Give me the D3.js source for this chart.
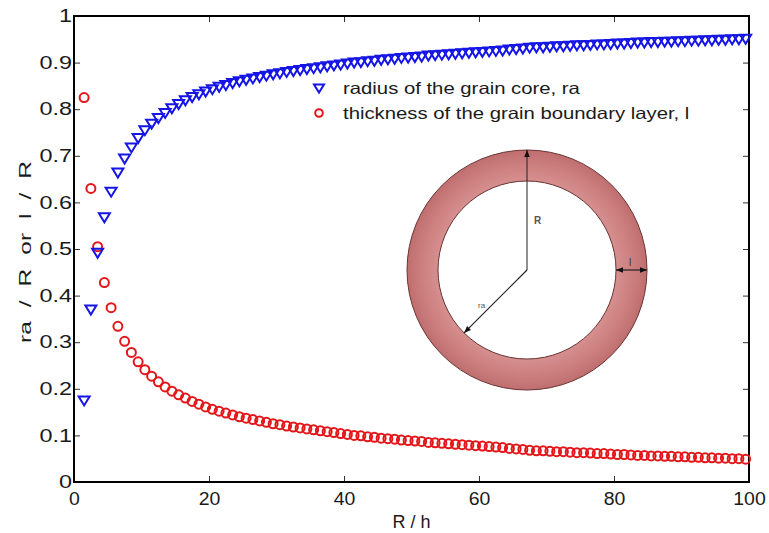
<!DOCTYPE html>
<html>
<head>
<meta charset="utf-8">
<script src="https://cdn.jsdelivr.net/npm/d3@7"></script>
<style>
  html, body { margin: 0; padding: 0; background: #fff; }
  svg { display: block; font-family: "Liberation Sans", Arial, Helvetica, sans-serif; }
</style>
</head>
<body>
<svg id="chart" width="769" height="533"></svg>
<script>
// ---- data ----
const xStart = 1.5;            // first R/h sample
const xStep = 1;               // sample spacing in R/h
const coreRatio = [ // ra / R  (blue triangles)
  0.175, 0.370, 0.492, 0.568, 0.623, 0.664, 0.694, 0.718, 0.738, 0.755,
  0.769, 0.781, 0.792, 0.802, 0.811, 0.819, 0.826, 0.832, 0.838, 0.843,
  0.848, 0.852, 0.856, 0.860, 0.863, 0.866, 0.869, 0.872, 0.875, 0.877,
  0.880, 0.882, 0.884, 0.886, 0.888, 0.890, 0.892, 0.894, 0.896, 0.898,
  0.900, 0.901, 0.903, 0.904, 0.906, 0.907, 0.908, 0.910, 0.911, 0.912,
  0.913, 0.915, 0.916, 0.917, 0.918, 0.919, 0.920, 0.921, 0.922, 0.923,
  0.924, 0.925, 0.926, 0.928, 0.929, 0.930, 0.932, 0.933, 0.933, 0.934,
  0.935, 0.935, 0.936, 0.937, 0.937, 0.938, 0.939, 0.939, 0.940, 0.941,
  0.941, 0.942, 0.943, 0.943, 0.944, 0.944, 0.945, 0.945, 0.946, 0.946,
  0.947, 0.947, 0.948, 0.948, 0.949, 0.949, 0.950, 0.950, 0.951
];
const layerRatio = [ // l / R  (red circles)
  0.825, 0.630, 0.505, 0.428, 0.374, 0.334, 0.302, 0.278, 0.258, 0.241,
  0.227, 0.215, 0.204, 0.195, 0.187, 0.180, 0.173, 0.167, 0.161, 0.156,
  0.152, 0.148, 0.144, 0.140, 0.137, 0.134, 0.131, 0.128, 0.125, 0.123,
  0.120, 0.118, 0.116, 0.114, 0.112, 0.110, 0.108, 0.106, 0.104, 0.102,
  0.100, 0.099, 0.097, 0.096, 0.094, 0.093, 0.092, 0.090, 0.089, 0.088,
  0.087, 0.085, 0.084, 0.083, 0.082, 0.081, 0.080, 0.079, 0.078, 0.077,
  0.076, 0.075, 0.074, 0.072, 0.071, 0.070, 0.068, 0.067, 0.067, 0.066,
  0.065, 0.065, 0.064, 0.063, 0.063, 0.062, 0.061, 0.061, 0.060, 0.059,
  0.059, 0.058, 0.057, 0.057, 0.056, 0.056, 0.055, 0.055, 0.054, 0.054,
  0.053, 0.053, 0.052, 0.052, 0.051, 0.051, 0.050, 0.050, 0.049
];
const xTicks = [0, 20, 40, 60, 80, 100];
const yTicks = [0, 0.1, 0.2, 0.3, 0.4, 0.5, 0.6, 0.7, 0.8, 0.9, 1];
const seriesNames = ["radius of the grain core, ra", "thickness of the grain boundary layer, l"];
const xLabel = "R / h";
const yLabel = "ra / R or l / R";
const insetLabels = { R: "R", ra: "ra", l: "l" };

// ---- layout ----
const svg = d3.select("#chart");
const margin = { left: 74, right: 20, top: 16, bottom: 51 };
const W = 769, H = 533;
const x = d3.scaleLinear().domain([0, 100]).range([margin.left, W - margin.right]);
const y = d3.scaleLinear().domain([0, 1]).range([H - margin.bottom, margin.top]);

const blue = "#1515e6", red = "#e3161a";
const xs = coreRatio.map((_, i) => xStart + i * xStep);

// horizontally stretch text (the reference glyphs are wide)
function stretch(sel, f) {
  sel.each(function () {
    const len = this.getComputedTextLength();
    d3.select(this).attr("textLength", len * f).attr("lengthAdjust", "spacingAndGlyphs");
  });
}

// frame + axes
const fmtY = d => (d === 0 || d === 1) ? String(d) : d.toFixed(1);
const tickLen = 6;
const axB = svg.append("g").attr("transform", `translate(0,${y(0)})`)
  .call(d3.axisBottom(x).tickValues(xTicks).tickSizeInner(-tickLen).tickSizeOuter(0).tickPadding(10));
const axT = svg.append("g").attr("transform", `translate(0,${y(1)})`)
  .call(d3.axisTop(x).tickValues(xTicks).tickSizeInner(-tickLen).tickSizeOuter(0).tickFormat(""));
const axL = svg.append("g").attr("transform", `translate(${x(0)},0)`)
  .call(d3.axisLeft(y).tickValues(yTicks).tickSizeInner(-tickLen).tickSizeOuter(0).tickPadding(2).tickFormat(fmtY));
const axR = svg.append("g").attr("transform", `translate(${x(100)},0)`)
  .call(d3.axisRight(y).tickValues(yTicks).tickSizeInner(-tickLen).tickSizeOuter(0).tickFormat(""));
[axB, axT, axL, axR].forEach(g => {
  g.select(".domain").remove();
  g.selectAll(".tick line").attr("stroke", "#333").attr("stroke-width", 1);
  g.selectAll(".tick text").attr("fill", "#1a1a1a").style("font-size", "18px")
    .style("font-family", "'Liberation Sans', Arial, sans-serif");
});
stretch(axL.selectAll(".tick text"), 1.3);
stretch(axB.selectAll(".tick text"), 1.08);
svg.append("rect")
  .attr("x", x(0)).attr("y", y(1))
  .attr("width", x(100) - x(0)).attr("height", y(0) - y(1))
  .attr("fill", "none").attr("stroke", "#000").attr("stroke-width", 2);

// axis labels
svg.append("text").attr("x", (x(0) + x(100)) / 2).attr("y", 528)
  .attr("text-anchor", "middle").attr("fill", "#1a1a1a").style("font-size", "18px").text(xLabel);
const yl = svg.append("text")
  .attr("transform", `translate(31,${(y(0) + y(1)) / 2 + 3}) rotate(-90)`)
  .attr("text-anchor", "middle").attr("fill", "#1a1a1a").style("font-size", "17px")
  .style("word-spacing", "5px").text(yLabel);
yl.attr("textLength", 182).attr("lengthAdjust", "spacingAndGlyphs");

// ---- inset: grain diagram ----
const cx = 527, cy = 270, rOut = 120, rIn = 89;
const defs = svg.append("defs");
const grad = defs.append("radialGradient").attr("id", "ringGrad")
  .attr("gradientUnits", "userSpaceOnUse").attr("cx", 0).attr("cy", 0).attr("r", rOut);
grad.append("stop").attr("offset", 0).attr("stop-color", "#d99494");
grad.append("stop").attr("offset", 0.74).attr("stop-color", "#d68f8f");
grad.append("stop").attr("offset", 0.87).attr("stop-color", "#cd8080");
grad.append("stop").attr("offset", 1).attr("stop-color", "#bf6e6e");
defs.append("marker").attr("id", "arrow").attr("viewBox", "0 0 10 10")
  .attr("refX", 10).attr("refY", 5).attr("markerWidth", 7).attr("markerHeight", 7)
  .attr("orient", "auto-start-reverse").attr("markerUnits", "userSpaceOnUse")
  .append("path").attr("d", "M0,1 L10,5 L0,9 Z").attr("fill", "#111");
const ring = d3.arc().innerRadius(rIn).outerRadius(rOut).startAngle(0).endAngle(2 * Math.PI);
const inset = svg.append("g").attr("transform", `translate(${cx},${cy})`);
inset.append("path").attr("d", ring()).attr("fill", "url(#ringGrad)")
  .attr("stroke", "#6a3434").attr("stroke-width", 1);
// R arrow
inset.append("line").attr("x1", 0).attr("y1", 0).attr("x2", 0).attr("y2", -rOut)
  .attr("stroke", "#222").attr("stroke-width", 1).attr("marker-end", "url(#arrow)");
inset.append("text").attr("x", 7).attr("y", -46).attr("fill", "#555")
  .style("font-size", "10px").style("font-weight", "bold").text(insetLabels.R);
// ra arrow (towards lower-left)
inset.append("line").attr("x1", 0).attr("y1", 0)
  .attr("x2", -rIn * Math.SQRT1_2).attr("y2", rIn * Math.SQRT1_2)
  .attr("stroke", "#222").attr("stroke-width", 1.2).attr("marker-end", "url(#arrow)");
inset.append("text").attr("x", -49).attr("y", 38).attr("fill", "#555")
  .style("font-size", "8px").text(insetLabels.ra);
// l double arrow
inset.append("line").attr("x1", rIn).attr("y1", 0).attr("x2", rOut).attr("y2", 0)
  .attr("stroke", "#222").attr("stroke-width", 1.2)
  .attr("marker-start", "url(#arrow)").attr("marker-end", "url(#arrow)");
inset.append("text").attr("x", 102).attr("y", -4).attr("fill", "#333")
  .style("font-size", "10px").text(insetLabels.l);

// ---- data marks ----
const tri = "M-5.5,-4 L5.5,-4 L0,5 Z";
svg.append("g").selectAll("circle").data(layerRatio).join("circle")
  .attr("cx", (d, i) => x(xs[i])).attr("cy", d => y(d)).attr("r", 4.5)
  .attr("fill", "none").attr("stroke", red).attr("stroke-width", 2);
svg.append("g").selectAll("path").data(coreRatio).join("path")
  .attr("transform", (d, i) => `translate(${x(xs[i])},${y(d)})`)
  .attr("d", tri).attr("fill", "none").attr("stroke", blue).attr("stroke-width", 2);

// ---- legend ----
const leg = svg.append("g").attr("transform", "translate(319,0)");
leg.append("path").attr("transform", "translate(0,88)").attr("d", "M-5,-3.5 L5,-3.5 L0,4.5 Z")
  .attr("fill", "none").attr("stroke", blue).attr("stroke-width", 2);
leg.append("circle").attr("cx", 0).attr("cy", 113).attr("r", 3.8)
  .attr("fill", "none").attr("stroke", red).attr("stroke-width", 2);
const lt1 = leg.append("text").attr("x", 24).attr("y", 94).attr("fill", "#1a1a1a").style("font-size", "16.5px").text(seriesNames[0]);
const lt2 = leg.append("text").attr("x", 24).attr("y", 119).attr("fill", "#1a1a1a").style("font-size", "16.5px").text(seriesNames[1]);
stretch(lt1, 1.23);
stretch(lt2, 1.23);
</script>
</body>
</html>
